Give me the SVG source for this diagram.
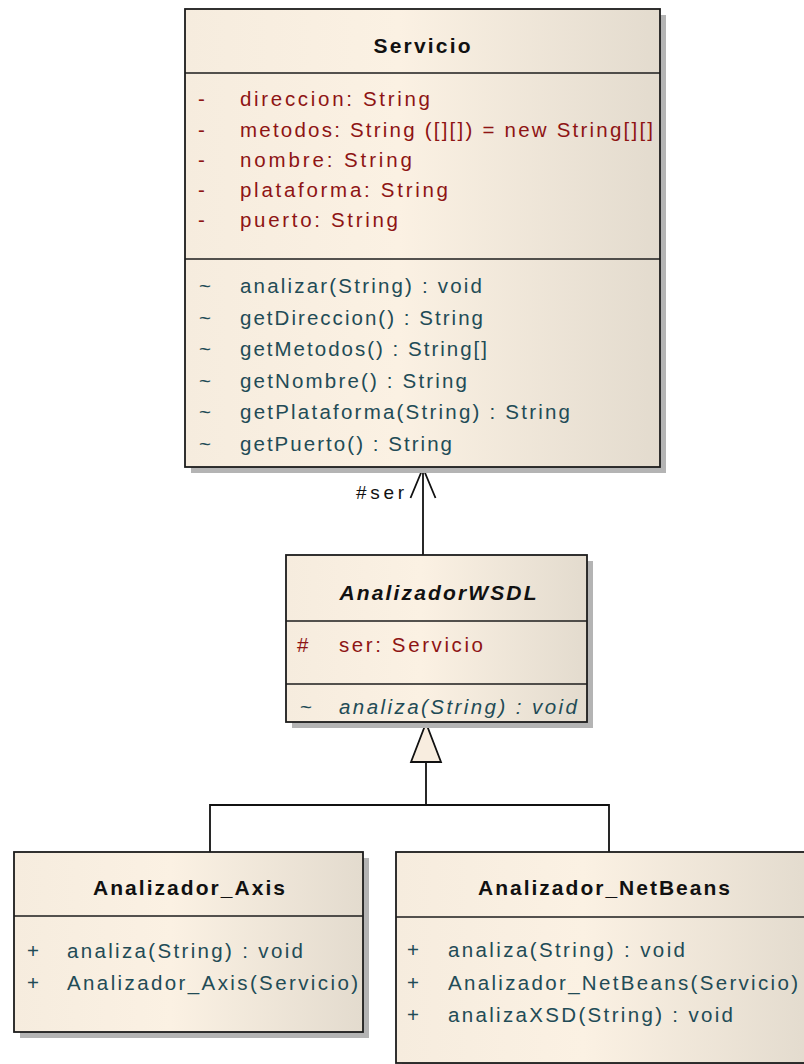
<svg xmlns="http://www.w3.org/2000/svg" width="804" height="1064" viewBox="0 0 804 1064">
<defs>
<linearGradient id="fillg" x1="0" y1="0" x2="1" y2="0">
<stop offset="0" stop-color="#f6ecde"/>
<stop offset="0.45" stop-color="#fbf1e3"/>
<stop offset="1" stop-color="#e3dbce"/>
</linearGradient>
</defs>
<style>
.box{fill:url(#fillg);stroke:#1c1c1c;stroke-width:1.8}
.shadow{fill:#b4b4b4}
.div{stroke:#1c1c1c;stroke-width:1.6}
.title{font-family:"Liberation Sans",Arial,sans-serif;font-weight:bold;font-size:21px;fill:#111;text-anchor:middle}
.attr{font-family:"Liberation Sans",Arial,sans-serif;font-size:20.5px;fill:#8e1414}
.op{font-family:"Liberation Sans",Arial,sans-serif;font-size:20.5px;fill:#224b56}
.lbl{font-family:"Liberation Sans",Arial,sans-serif;font-size:19px;fill:#111}
.conn{stroke:#111;stroke-width:1.8;fill:none}
</style>
<rect width="804" height="1064" fill="#ffffff"/>

<g id="connectors">
<line class="conn" x1="423" y1="555" x2="423" y2="468"/>
<polyline class="conn" points="410.5,498 423,468 435.5,498"/>
<text class="lbl" x="356" y="499" textLength="48" lengthAdjust="spacing">#ser</text>
<line class="conn" x1="426" y1="762" x2="426" y2="805"/>
<polyline class="conn" points="210,852 210,805 609,805 609,852"/>
<polygon points="426,723 411,762 441,762" fill="#f8eddf" stroke="#111" stroke-width="1.8" stroke-linejoin="miter"/>
</g>

<g id="Servicio">
<rect class="shadow" x="191" y="15" width="475" height="458"/>
<rect class="box" x="185" y="9" width="475" height="458"/>
<line class="div" x1="185" y1="73" x2="660" y2="73"/>
<line class="div" x1="185" y1="259" x2="660" y2="259"/>
<text class="title" x="422" y="53" textLength="97" lengthAdjust="spacing">Servicio</text>
<text class="attr" x="198" y="106">-</text>
<text class="attr" x="240" y="106" textLength="190" lengthAdjust="spacing">direccion: String</text>
<text class="attr" x="198" y="137">-</text>
<text class="attr" x="240" y="137" textLength="413" lengthAdjust="spacing">metodos: String ([][]) = new String[][]</text>
<text class="attr" x="198" y="167">-</text>
<text class="attr" x="240" y="167" textLength="172" lengthAdjust="spacing">nombre: String</text>
<text class="attr" x="198" y="197">-</text>
<text class="attr" x="240" y="197" textLength="208" lengthAdjust="spacing">plataforma: String</text>
<text class="attr" x="198" y="227">-</text>
<text class="attr" x="240" y="227" textLength="158" lengthAdjust="spacing">puerto: String</text>
<text class="op" x="199" y="293">~</text>
<text class="op" x="240" y="293" textLength="242" lengthAdjust="spacing">analizar(String) : void</text>
<text class="op" x="199" y="325">~</text>
<text class="op" x="240" y="325" textLength="243" lengthAdjust="spacing">getDireccion() : String</text>
<text class="op" x="199" y="356">~</text>
<text class="op" x="240" y="356" textLength="247" lengthAdjust="spacing">getMetodos() : String[]</text>
<text class="op" x="199" y="388">~</text>
<text class="op" x="240" y="388" textLength="227" lengthAdjust="spacing">getNombre() : String</text>
<text class="op" x="199" y="419">~</text>
<text class="op" x="240" y="419" textLength="330" lengthAdjust="spacing">getPlataforma(String) : String</text>
<text class="op" x="199" y="451">~</text>
<text class="op" x="240" y="451" textLength="212" lengthAdjust="spacing">getPuerto() : String</text>
</g>

<g id="AnalizadorWSDL">
<rect class="shadow" x="292" y="561" width="301" height="167"/>
<rect class="box" x="286" y="555" width="301" height="167"/>
<line class="div" x1="286" y1="621" x2="587" y2="621"/>
<line class="div" x1="286" y1="684" x2="587" y2="684"/>
<text class="title" x="438" y="600" font-style="italic" textLength="197" lengthAdjust="spacing">AnalizadorWSDL</text>
<text class="attr" x="297" y="652">#</text>
<text class="attr" x="339" y="652" textLength="144" lengthAdjust="spacing">ser: Servicio</text>
<text class="op" x="300" y="714">~</text>
<text class="op" x="339" y="714" font-style="italic" textLength="238" lengthAdjust="spacing">analiza(String) : void</text>
</g>

<g id="Analizador_Axis">
<rect class="shadow" x="20" y="858" width="349" height="180"/>
<rect class="box" x="14" y="852" width="349" height="180"/>
<line class="div" x1="14" y1="916" x2="363" y2="916"/>
<text class="title" x="189" y="895" textLength="192" lengthAdjust="spacing">Analizador_Axis</text>
<text class="op" x="27" y="958">+</text>
<text class="op" x="67" y="958" textLength="236" lengthAdjust="spacing">analiza(String) : void</text>
<text class="op" x="27" y="990">+</text>
<text class="op" x="67" y="990" textLength="291" lengthAdjust="spacing">Analizador_Axis(Servicio)</text>
</g>

<g id="Analizador_NetBeans">
<rect class="shadow" x="402" y="858" width="416" height="211"/>
<rect class="box" x="396" y="852" width="416" height="211"/>
<line class="div" x1="396" y1="917" x2="812" y2="917"/>
<text class="title" x="604" y="895" textLength="252" lengthAdjust="spacing">Analizador_NetBeans</text>
<text class="op" x="407" y="957">+</text>
<text class="op" x="448" y="957" textLength="237" lengthAdjust="spacing">analiza(String) : void</text>
<text class="op" x="407" y="990">+</text>
<text class="op" x="448" y="990" textLength="350" lengthAdjust="spacing">Analizador_NetBeans(Servicio)</text>
<text class="op" x="407" y="1022">+</text>
<text class="op" x="448" y="1022" textLength="285" lengthAdjust="spacing">analizaXSD(String) : void</text>
</g>
</svg>
